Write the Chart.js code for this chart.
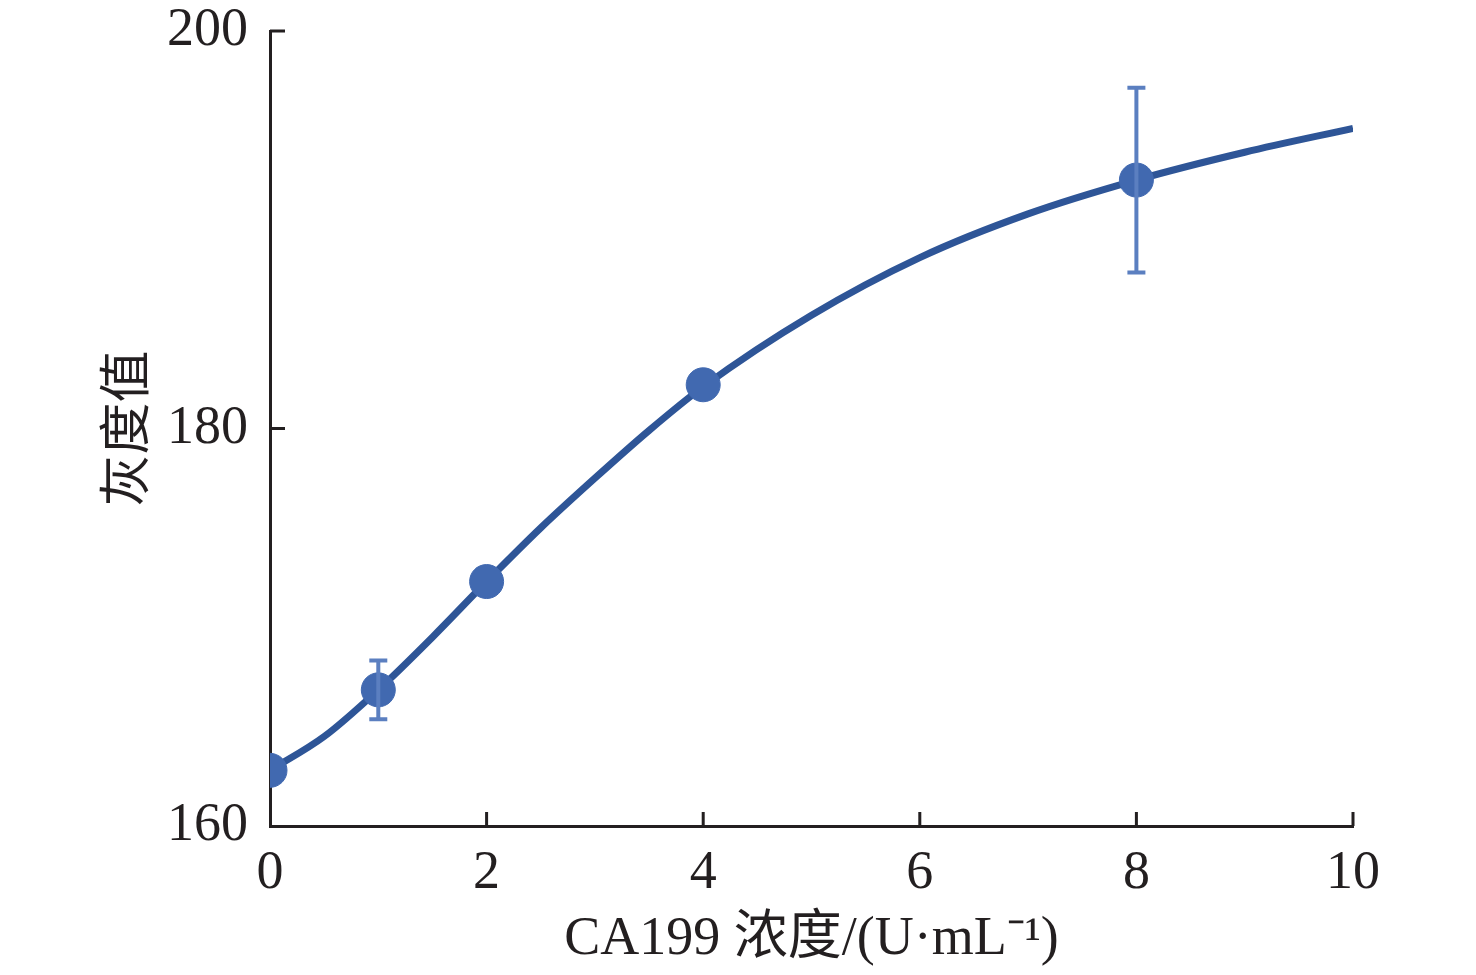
<!DOCTYPE html>
<html>
<head>
<meta charset="utf-8">
<script src="https://cdn.jsdelivr.net/npm/chart.js@4"></script>
<style>
  html, body { margin: 0; padding: 0; background: #fff; }
  #wrap { width: 1476px; height: 975px; }
</style>
</head>
<body>
<div id="wrap"><canvas id="gray-chart"></canvas></div>
<script>
// measured points (CA199 concentration vs gray value)
const concentrations = [0, 1, 2, 4, 8];
const grayValues = [162.8, 166.85, 172.3, 182.2, 192.5];
const grayErrors = [0, 1.48, 0, 0, 4.65];

// fitted curve
const curveX = [0, 0.5, 1, 1.5, 2, 2.5, 3, 3.5, 4, 5, 6, 7, 8, 9, 10];
const curveY = [162.8, 164.5, 166.85, 169.5, 172.3, 175.0, 177.5, 179.9, 182.1, 185.7, 188.6, 190.8, 192.5, 193.9, 195.1];

const xTicks = [0, 2, 4, 6, 8, 10];
const yTicks = [160, 180, 200];

const serif = "'Liberation Serif', 'Times New Roman', 'Noto Sans CJK SC', serif";
const inkColor = "#231f20";
const lineColor = "#2e5597";
const markerColor = "#4169b0";
const barColor = "#5b7fc0";

// error bars + inward tick marks
const extras = {
    id: "extras",
    afterDatasetsDraw(chart) {
        const ctx = chart.ctx;
        const xs = chart.scales.x;
        const ys = chart.scales.y;
        ctx.save();
        ctx.strokeStyle = barColor;
        ctx.lineWidth = 4;
        concentrations.forEach(function (c, i) {
            if (!grayErrors[i]) return;
            const px = xs.getPixelForValue(c);
            const top = ys.getPixelForValue(grayValues[i] + grayErrors[i]);
            const bot = ys.getPixelForValue(grayValues[i] - grayErrors[i]);
            ctx.beginPath();
            ctx.moveTo(px, top);
            ctx.lineTo(px, bot);
            ctx.moveTo(px - 9, top);
            ctx.lineTo(px + 9, top);
            ctx.moveTo(px - 9, bot);
            ctx.lineTo(px + 9, bot);
            ctx.stroke();
        });
        ctx.strokeStyle = inkColor;
        ctx.lineWidth = 3;
        ctx.beginPath();
        xTicks.forEach(function (v) {
            if (v === 0) return;
            const px = xs.getPixelForValue(v);
            ctx.moveTo(px, ys.bottom);
            ctx.lineTo(px, ys.bottom - 14);
        });
        yTicks.forEach(function (v) {
            if (v === 160) return;
            const py = ys.getPixelForValue(v);
            ctx.moveTo(xs.left, py);
            ctx.lineTo(xs.left + 15, py);
        });
        ctx.stroke();
        ctx.restore();
    },
};

const ctx = document.getElementById("gray-chart");

new Chart(ctx, {
    type: "scatter",
    data: {
        datasets: [
            {
                type: "line",
                label: "fit",
                data: curveX.map(function (x, i) { return { x: x, y: curveY[i] }; }),
                borderColor: lineColor,
                borderWidth: 7,
                pointRadius: 0,
                fill: false,
                cubicInterpolationMode: "monotone",
                order: 2,
            },
            {
                label: "measured",
                data: concentrations.map(function (c, i) { return { x: c, y: grayValues[i] }; }),
                backgroundColor: markerColor,
                borderColor: markerColor,
                pointRadius: 17,
                pointHoverRadius: 17,
                order: 1,
            },
        ],
    },
    options: {
        responsive: true,
        maintainAspectRatio: false,
        animation: false,
        events: [],
        layout: { padding: { top: 31, right: 123, left: 0, bottom: 0 } },
        plugins: {
            legend: { display: false },
            tooltip: { enabled: false },
        },
        scales: {
            x: {
                type: "linear",
                min: 0,
                max: 10,
                afterBuildTicks: function (scale) {
                    scale.ticks = xTicks.map(function (v) { return { value: v }; });
                },
                afterFit: function (scale) {
                    scale.height = 149;
                    scale.paddingLeft = 0;
                    scale.paddingRight = 0;
                },
                grid: { display: false, drawTicks: false },
                border: { display: true, color: inkColor, width: 3 },
                ticks: {
                    color: inkColor,
                    padding: 15,
                    font: { family: serif, size: 54 },
                    maxRotation: 0,
                },
                title: {
                    display: true,
                    text: "CA199 浓度/(U·mL⁻¹)",
                    color: inkColor,
                    font: { family: serif, size: 54 },
                    padding: { top: 0, bottom: 3 },
                },
            },
            y: {
                type: "linear",
                min: 160,
                max: 200,
                afterBuildTicks: function (scale) {
                    scale.ticks = yTicks.map(function (v) { return { value: v }; });
                },
                afterFit: function (scale) {
                    scale.width = 270;
                    scale.paddingTop = 0;
                    scale.paddingBottom = 0;
                },
                grid: { display: false, drawTicks: false },
                border: { display: true, color: inkColor, width: 3 },
                ticks: {
                    color: inkColor,
                    padding: 22,
                    font: { family: serif, size: 54 },
                },
                title: {
                    display: true,
                    text: "灰度值",
                    color: inkColor,
                    font: { family: serif, size: 52 },
                    padding: { top: 99, bottom: 0 },
                },
            },
        },
    },
    plugins: [extras],
});
</script>
</body>
</html>
